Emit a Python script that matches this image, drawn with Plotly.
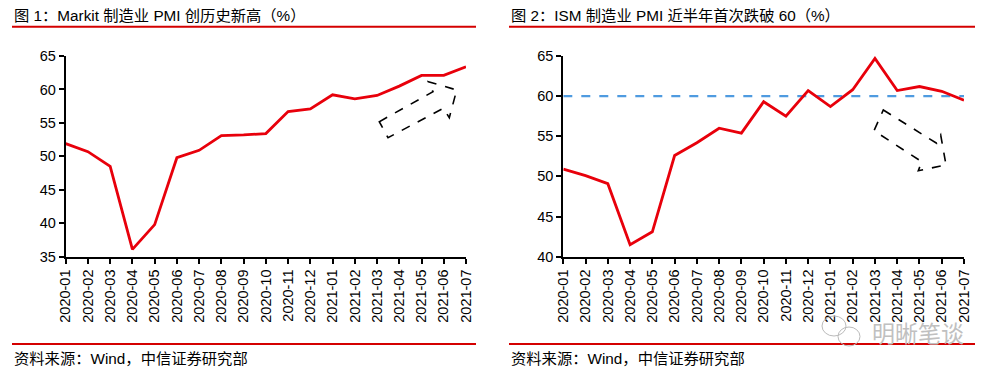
import plotly.graph_objects as go

months = ["2020-01", "2020-02", "2020-03", "2020-04", "2020-05", "2020-06", "2020-07",
          "2020-08", "2020-09", "2020-10", "2020-11", "2020-12", "2021-01", "2021-02",
          "2021-03", "2021-04", "2021-05", "2021-06", "2021-07"]
markit_pmi = [51.9, 50.7, 48.5, 36.1, 39.8, 49.8, 50.9, 53.1, 53.2, 53.4, 56.7, 57.1,
              59.2, 58.6, 59.1, 60.5, 62.1, 62.1, 63.4]
ism_pmi = [50.9, 50.1, 49.1, 41.5, 43.1, 52.6, 54.2, 56.0, 55.4, 59.3, 57.5, 60.7,
           58.7, 60.8, 64.7, 60.7, 61.2, 60.6, 59.5]
ism_ref = [60] * len(months)
left_ticks = [35, 40, 45, 50, 55, 60, 65]
right_ticks = [40, 45, 50, 55, 60, 65]

title1 = "图 1：Markit 制造业 PMI 创历史新高（%）"
title2 = "图 2：ISM 制造业 PMI 近半年首次跌破 60（%）"
source = "资料来源：Wind，中信证券研究部"

# page body has an 8px margin: the figure is sized to fit inside it
OFF = 8
W, H = 1002 - 2 * OFF, 376 - 2 * OFF
FONT = "Liberation Sans, Arial, Noto Sans CJK SC, sans-serif"
RED = "#e8000b"


def px(x):
    return (x - OFF) / W


def py(y):
    return 1 - (y - OFF) / H


fig = go.Figure()
fig.add_trace(go.Scatter(x=months, y=markit_pmi, mode="lines",
                         line=dict(color=RED, width=2.8), xaxis="x", yaxis="y",
                         showlegend=False, hoverinfo="x+y"))
fig.add_trace(go.Scatter(x=months, y=ism_ref, mode="lines",
                         line=dict(color="#4f9be0", width=2.2, dash="dash"),
                         xaxis="x2", yaxis="y2", showlegend=False))
fig.add_trace(go.Scatter(x=months, y=ism_pmi, mode="lines",
                         line=dict(color=RED, width=2.8), xaxis="x2", yaxis="y2",
                         showlegend=False, hoverinfo="x+y"))

axis_common = dict(showgrid=False, zeroline=False, showline=True, linecolor="black",
                   linewidth=2, ticks="outside", ticklen=5, tickwidth=2, tickcolor="black",
                   automargin=False,
                   tickfont=dict(family=FONT, size=14.5, color="black"))

xcommon = dict(axis_common, type="category", range=[0, len(months) - 1], tickangle=-90,
               categoryorder="array", categoryarray=months)

fig.update_layout(
    template="none",
    width=W, height=H, margin=dict(l=0, r=0, t=0, b=0, pad=0, autoexpand=False),
    paper_bgcolor="white", plot_bgcolor="white", showlegend=False,
    xaxis=dict(xcommon, domain=[px(65.7), px(466)], anchor="y"),
    yaxis=dict(axis_common, domain=[py(256.7), py(56)], range=[35, 65],
               tickvals=left_ticks, anchor="x"),
    xaxis2=dict(xcommon, domain=[px(563.3), px(964)], anchor="y2"),
    yaxis2=dict(axis_common, domain=[py(256.7), py(56)], range=[40, 65],
                tickvals=right_ticks, anchor="x2"),
)

# titles and sources
for x0, t in [(12, title1), (509, title2)]:
    fig.add_annotation(x=px(x0), y=py(15), xref="paper", yref="paper", text=t,
                       showarrow=False, xanchor="left", yanchor="middle",
                       font=dict(family=FONT, size=15.3, color="black"))
    fig.add_annotation(x=px(x0), y=py(358), xref="paper", yref="paper", text=source,
                       showarrow=False, xanchor="left", yanchor="middle",
                       font=dict(family=FONT, size=15.3, color="black"))

shapes = []
for x0, x1 in [(12, 476), (509, 975)]:
    for yy in (26.7, 344):
        shapes.append(dict(type="line", xref="paper", yref="paper",
                           x0=px(x0), x1=px(x1), y0=py(yy), y1=py(yy),
                           line=dict(color="#d40000", width=2)))


def arrow_path(pts):
    s = "M " + " L ".join(f"{px(x):.5f},{py(y):.5f}" for x, y in pts) + " Z"
    return s


left_arrow = [(379.3, 121.7), (433.0, 91.7), (428.3, 81.7), (456.7, 90.0),
              (449.3, 117.7), (443.3, 108.3), (388.0, 137.7)]
right_arrow = [(883.3, 110.0), (936.7, 143.3), (940.7, 135.0), (946.0, 165.0),
               (918.3, 170.7), (921.7, 161.7), (874.0, 130.7)]
for pts in (left_arrow, right_arrow):
    shapes.append(dict(type="path", xref="paper", yref="paper", path=arrow_path(pts),
                       line=dict(color="black", width=1.6, dash="dash")))

# watermark icon (approximation)
shapes.append(dict(type="circle", xref="paper", yref="paper",
                   x0=px(822), x1=px(846), y0=py(336), y1=py(316),
                   line=dict(color="#bbbbbb", width=1)))
shapes.append(dict(type="circle", xref="paper", yref="paper",
                   x0=px(838), x1=px(860), y0=py(346), y1=py(327),
                   line=dict(color="#bbbbbb", width=1)))
fig.update_layout(shapes=shapes)

fig.add_annotation(x=px(918), y=py(332), xref="paper", yref="paper", text="明晰笔谈",
                   showarrow=False, xanchor="center", yanchor="middle",
                   font=dict(family="Noto Sans CJK SC", size=23, color="#c0c0c0"))

fig.write_html("out.html")
